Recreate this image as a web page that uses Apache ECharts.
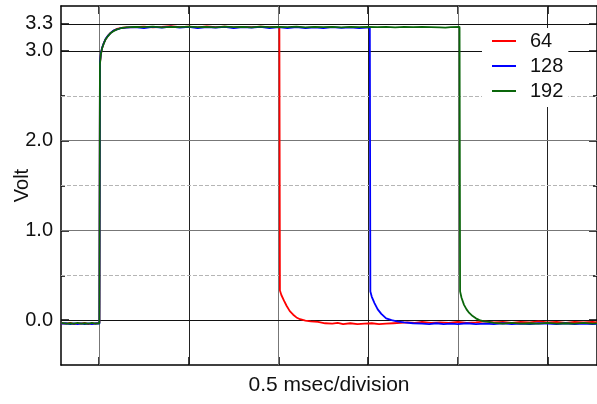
<!DOCTYPE html>
<html>
<head>
<meta charset="utf-8">
<script src="https://cdn.jsdelivr.net/npm/echarts@6/dist/echarts.min.js"></script>
<style>
  html, body { margin: 0; padding: 0; background: #fff; }
  #main { width: 597px; height: 404px; }
</style>
</head>
<body>
<div id="main"></div>
<script>
// channel names (legend)
const channels = ['64', '128', '192']
// vertical grid divisions, msec (0.5 msec/division)
const divisions = [0, 0.5, 1, 1.5, 2, 2.5]
// y axis labels, volt
const voltLabels = [0, 1, 2, 3, 3.3]
const halfVolts = [0.5, 1.5, 2.5]

// [msec, volt]
const volt64 = [
  [-0.21, -0.035], [-0.18, -0.04], [-0.16, -0.03], [-0.14, -0.045], [-0.12, -0.035], [-0.1, -0.04],
  [-0.08, -0.03], [-0.06, -0.045], [-0.04, -0.035], [-0.02, -0.04], [0.002, -0.03],
  [0.005, 2.86], [0.01, 2.96], [0.017, 3.03], [0.027, 3.09], [0.037, 3.13], [0.05, 3.17],
  [0.065, 3.2], [0.08, 3.225], [0.1, 3.245], [0.125, 3.255], [0.15, 3.262], [0.2, 3.265],
  [0.25, 3.27], [0.3, 3.262], [0.35, 3.268], [0.4, 3.275], [0.45, 3.265], [0.5, 3.27],
  [0.55, 3.262], [0.6, 3.272], [0.65, 3.265], [0.7, 3.27], [0.75, 3.262], [0.8, 3.268],
  [0.85, 3.265], [0.9, 3.27], [0.95, 3.265], [1.005, 3.268],
  [1.008, 0.33], [1.016, 0.28], [1.03, 0.22], [1.045, 0.16], [1.063, 0.1], [1.082, 0.06], [1.1, 0.03],
  [1.12, 0.01], [1.15, -0.005], [1.18, -0.015], [1.22, -0.02], [1.26, -0.035], [1.3, -0.04],
  [1.33, -0.03], [1.36, -0.045], [1.4, -0.035], [1.44, -0.045], [1.48, -0.04], [1.52, -0.035],
  [1.56, -0.045], [1.6, -0.04], [1.64, -0.035], [1.68, -0.03], [1.72, -0.025], [1.76, -0.03],
  [1.8, -0.02], [1.85, -0.03], [1.9, -0.025], [1.95, -0.03], [2.0, -0.02], [2.05, -0.03],
  [2.1, -0.025], [2.15, -0.015], [2.2, -0.025], [2.25, -0.02], [2.3, -0.03], [2.35, -0.02],
  [2.4, -0.025], [2.45, -0.015], [2.5, -0.025], [2.55, -0.02], [2.6, -0.03], [2.65, -0.02],
  [2.7, -0.025], [2.75, -0.02], [2.78, -0.025]
]
const volt128 = [
  [-0.21, -0.04], [-0.18, -0.035], [-0.16, -0.045], [-0.14, -0.035], [-0.12, -0.045], [-0.1, -0.035],
  [-0.08, -0.045], [-0.06, -0.035], [-0.04, -0.045], [-0.02, -0.035], [0.002, -0.04],
  [0.005, 2.87], [0.01, 2.97], [0.017, 3.035], [0.027, 3.09], [0.037, 3.135], [0.05, 3.17],
  [0.065, 3.2], [0.08, 3.225], [0.1, 3.24], [0.125, 3.255], [0.15, 3.258], [0.2, 3.265],
  [0.25, 3.255], [0.3, 3.268], [0.35, 3.258], [0.4, 3.27], [0.45, 3.26], [0.5, 3.268],
  [0.55, 3.255], [0.6, 3.265], [0.65, 3.258], [0.7, 3.268], [0.75, 3.255], [0.8, 3.265],
  [0.85, 3.26], [0.9, 3.268], [0.95, 3.255], [1.0, 3.265], [1.05, 3.255], [1.1, 3.265],
  [1.15, 3.255], [1.2, 3.262], [1.25, 3.255], [1.3, 3.265], [1.35, 3.256], [1.4, 3.262],
  [1.45, 3.255], [1.509, 3.262],
  [1.512, 0.32], [1.52, 0.26], [1.535, 0.19], [1.553, 0.12], [1.573, 0.07], [1.6, 0.02],
  [1.63, 0.0], [1.66, -0.015], [1.7, -0.025], [1.75, -0.035], [1.8, -0.04], [1.84, -0.045],
  [1.88, -0.035], [1.92, -0.045], [1.96, -0.04], [2.0, -0.045], [2.05, -0.035], [2.1, -0.045],
  [2.15, -0.04], [2.2, -0.045], [2.25, -0.035], [2.3, -0.045], [2.35, -0.04], [2.4, -0.045],
  [2.45, -0.035], [2.5, -0.04], [2.55, -0.045], [2.6, -0.035], [2.65, -0.045], [2.7, -0.04],
  [2.75, -0.045], [2.78, -0.04]
]
const volt192 = [
  [-0.21, -0.03], [-0.18, -0.04], [-0.16, -0.035], [-0.14, -0.04], [-0.12, -0.03], [-0.1, -0.04],
  [-0.08, -0.035], [-0.06, -0.04], [-0.04, -0.03], [-0.02, -0.04], [0.002, -0.035],
  [0.005, 2.85], [0.01, 2.96], [0.017, 3.03], [0.027, 3.085], [0.037, 3.13], [0.05, 3.165],
  [0.065, 3.2], [0.08, 3.22], [0.1, 3.24], [0.125, 3.255], [0.15, 3.262], [0.2, 3.268],
  [0.25, 3.265], [0.3, 3.27], [0.35, 3.262], [0.4, 3.268], [0.45, 3.265], [0.5, 3.27],
  [0.55, 3.265], [0.6, 3.268], [0.65, 3.262], [0.7, 3.27], [0.75, 3.265], [0.8, 3.268],
  [0.85, 3.262], [0.9, 3.27], [0.95, 3.265], [1.0, 3.268], [1.05, 3.265], [1.1, 3.27],
  [1.15, 3.262], [1.2, 3.268], [1.25, 3.265], [1.3, 3.268], [1.35, 3.262], [1.4, 3.268],
  [1.45, 3.265], [1.5, 3.268], [1.55, 3.265], [1.6, 3.268], [1.65, 3.262], [1.7, 3.268],
  [1.75, 3.265], [1.8, 3.268], [1.85, 3.265], [1.9, 3.262], [1.91, 3.245], [1.93, 3.258],
  [1.96, 3.265], [2.009, 3.268],
  [2.012, 0.32], [2.02, 0.25], [2.034, 0.17], [2.048, 0.12], [2.063, 0.08], [2.082, 0.045],
  [2.1, 0.02], [2.12, 0.0], [2.14, -0.01], [2.15, 0.0], [2.17, -0.02], [2.2, -0.03],
  [2.25, -0.04], [2.3, -0.03], [2.35, -0.04], [2.4, -0.035], [2.45, -0.04], [2.5, -0.03],
  [2.55, -0.04], [2.6, -0.035], [2.65, -0.04], [2.7, -0.03], [2.75, -0.04], [2.78, -0.035]
]

const colors = ['#ff0000', '#0000ff', '#0a660a']
const font = "'Liberation Sans', Arial, Helvetica, sans-serif"

const chart = echarts.init(document.getElementById('main'), null, { renderer: 'canvas' })

// 网格线 - markLine
function vLine(t) {
  return { xAxis: t, lineStyle: { color: t % 1 === 0 ? '#777' : '#222', width: 1, type: 'solid' } }
}
function hLine(v, color, type) {
  return { yAxis: v, lineStyle: { color: color, width: 1, type: type } }
}
const gridLines = [].concat(
  divisions.map(vLine),
  halfVolts.map(v => hLine(v, '#b5b5b5', [4, 2])),
  [hLine(0, '#111', 'solid'), hLine(1, '#777', 'solid'), hLine(2, '#777', 'solid'),
   hLine(3, '#111', 'solid'), hLine(3.3, '#111', 'solid')]
)

const frameLine = { show: true, onZero: false, lineStyle: { color: '#000', width: 1.5 } }
const noLine = { show: false, onZero: false }
const tMin = -0.212
const tMax = 2.775

const option = {
  animation: false,
  textStyle: { fontFamily: font },
  grid: { left: 61, right: 0, top: 6, bottom: 39, outerBoundsMode: 'none', containLabel: false },
  legend: {
    data: channels,
    orient: 'vertical',
    left: 482,
    top: 28,
    padding: [3, 5, 6, 10],
    backgroundColor: '#fff',
    itemWidth: 24,
    itemHeight: 2,
    itemGap: 5,
    icon: 'rect',
    z: 10,
    textStyle: { fontSize: 20, color: '#111', fontFamily: font, padding: [0, 0, 0, 9], lineHeight: 20 }
  },
  xAxis: [
    {
      type: 'value', position: 'bottom', min: tMin, max: tMax,
      axisLine: frameLine,
      axisTick: { show: true, inside: true, length: 8, customValues: divisions, lineStyle: { color: '#000', width: 1.5 } },
      axisLabel: { show: false },
      splitLine: { show: false },
      name: '0.5 msec/division',
      nameLocation: 'middle',
      nameGap: 10,
      nameMoveOverlap: false,
      nameTextStyle: { fontSize: 21, color: '#111', fontFamily: font }
    },
    {
      type: 'value', position: 'top', min: tMin, max: tMax,
      axisLine: frameLine,
      axisTick: { show: true, inside: true, length: 8, customValues: divisions, lineStyle: { color: '#000', width: 1.5 } },
      axisLabel: { show: false },
      splitLine: { show: false }
    }
  ],
  yAxis: [
    {
      type: 'value', position: 'left', min: -0.5, max: 3.5,
      axisLine: frameLine,
      axisTick: { show: true, inside: true, length: 8, customValues: voltLabels, lineStyle: { color: '#000', width: 1.5 } },
      axisLabel: {
        customValues: voltLabels, fontSize: 20, color: '#111', margin: 8, fontFamily: font,
        formatter: v => v.toFixed(1)
      },
      splitLine: { show: false },
      name: 'Volt',
      nameLocation: 'middle',
      nameGap: 29,
      nameRotate: 90,
      nameMoveOverlap: false,
      nameTextStyle: { fontSize: 20, color: '#111', fontFamily: font }
    },
    {
      type: 'value', position: 'left', min: -0.5, max: 3.5,
      axisLine: noLine,
      axisTick: { show: true, inside: true, length: 4, customValues: halfVolts, lineStyle: { color: '#000', width: 1.5 } },
      axisLabel: { show: false },
      splitLine: { show: false }
    },
    {
      type: 'value', position: 'right', min: -0.5, max: 3.5,
      axisLine: frameLine,
      axisTick: { show: true, inside: true, length: 8, customValues: voltLabels, lineStyle: { color: '#000', width: 1.5 } },
      axisLabel: { show: false },
      splitLine: { show: false }
    },
    {
      type: 'value', position: 'right', min: -0.5, max: 3.5,
      axisLine: noLine,
      axisTick: { show: true, inside: true, length: 4, customValues: halfVolts, lineStyle: { color: '#000', width: 1.5 } },
      axisLabel: { show: false },
      splitLine: { show: false }
    }
  ],
  series: [
    {
      // grid lines only, kept under the traces
      type: 'line', name: 'grid', data: [], z: 1, silent: true,
      markLine: { silent: true, z: 1, symbol: 'none', label: { show: false }, animation: false, data: gridLines }
    }
  ].concat([volt64, volt128, volt192].map((d, i) => ({
    type: 'line',
    name: channels[i],
    data: d,
    z: 3 + i,
    showSymbol: false,
    color: colors[i],
    lineStyle: { color: colors[i], width: 1.8 }
  })))
}

chart.setOption(option)
</script>
</body>
</html>
